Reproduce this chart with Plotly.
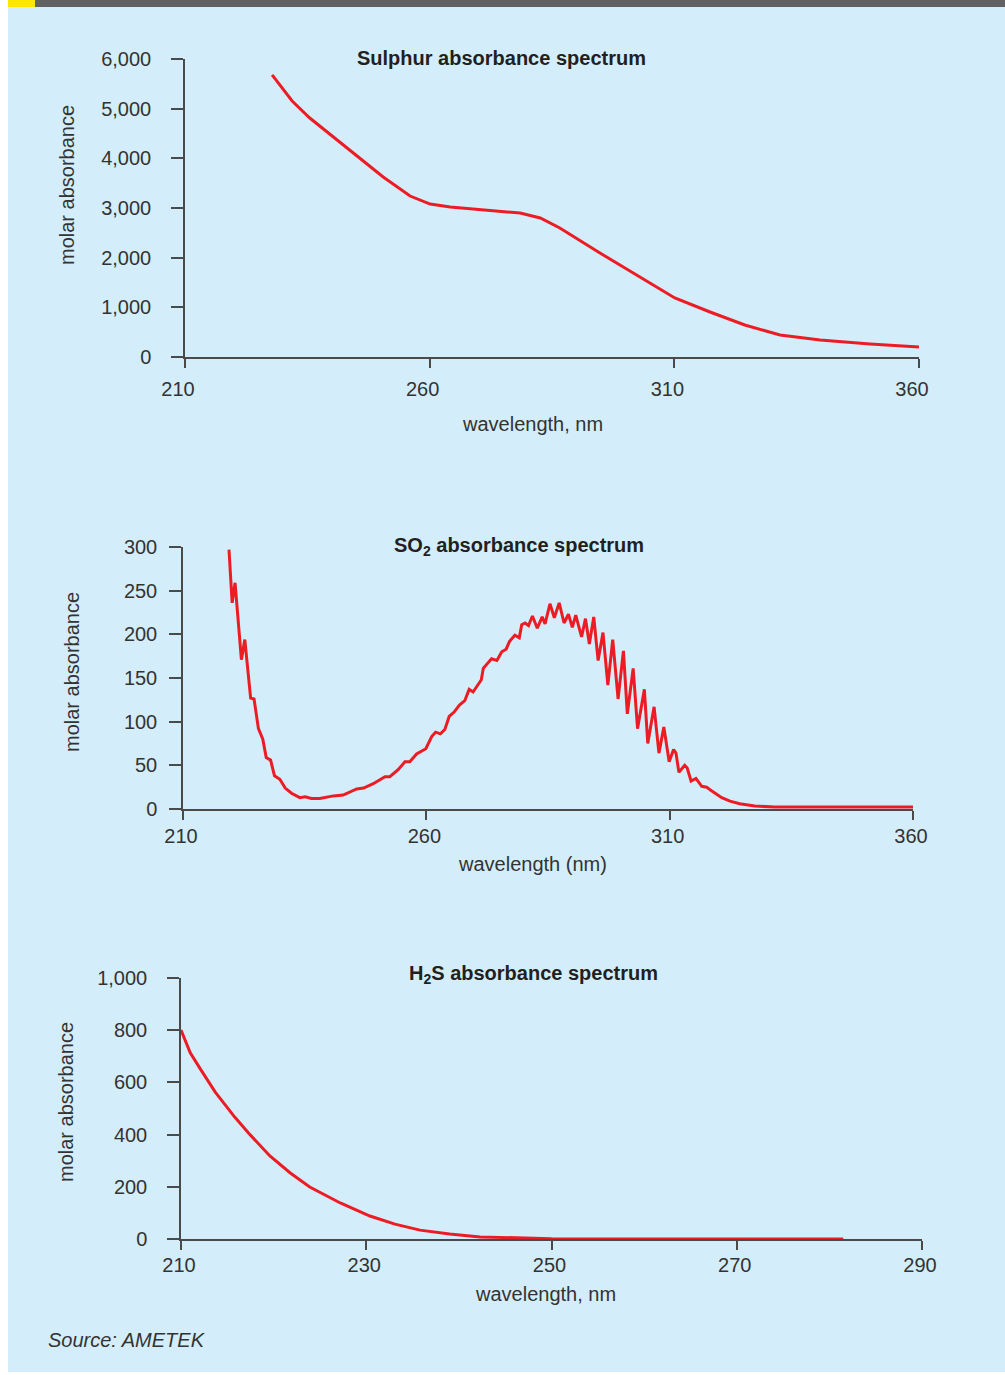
import plotly.graph_objects as go

W, H = 1005, 1375

# ---------------- data ----------------
s_wl = [227.8, 231.9, 235.5, 243.7, 250.5, 256.0, 260.1, 264.2, 278.5, 282.6,
        286.6, 294.8, 303.0, 310.1, 317.3, 324.4, 331.6, 339.8, 350.0, 360.0]
s_abs = [5680, 5155, 4812, 4168, 3624, 3241, 3080, 3020, 2899, 2800,
         2597, 2094, 1611, 1188, 906, 644, 443, 342, 262, 201]

so2_wl = [219.45, 220.1, 220.7, 222.0, 222.7, 223.9, 224.6, 225.5, 226.4, 227.1,
          228.0, 228.8, 229.9, 231.0, 232.3, 234.0, 235.1, 236.4, 238.1, 240.9,
          242.9, 245.7, 247.1, 249.1, 251.5, 252.5, 254.2, 255.6, 256.6, 258.0,
          259.9, 261.1, 261.9, 262.9, 263.8, 264.7, 265.7, 266.8, 267.9, 268.8,
          269.6, 271.3, 271.7, 273.4, 274.5, 275.5, 276.4, 277.1, 278.2, 279.1,
          279.6, 280.3, 281.0, 281.8, 282.8, 283.8, 284.4, 285.4, 286.3, 287.3,
          288.3, 289.2, 290.0, 290.7, 291.9, 292.7, 293.5, 294.4, 295.3, 296.3,
          297.3, 298.3, 299.4, 300.5, 301.3, 302.5, 303.4, 304.8, 305.5, 306.8,
          307.8, 308.8, 309.9, 310.8, 311.3, 311.9, 313.1, 313.6, 314.4, 315.4,
          316.6, 317.6, 318.3, 319.3, 320.7, 322.4, 324.4, 327.5, 331.6, 360.0]
so2_abs = [297, 236, 259, 171, 194, 127, 126, 92, 80, 59,
           56, 38, 34, 24, 18, 13, 14, 12, 12, 15,
           16, 23, 24, 29, 37, 37, 45, 54, 54, 63,
           69, 83, 88, 86, 91, 106, 111, 119, 124, 137,
           134, 148, 161, 172, 170, 180, 183, 192, 199, 196,
           211, 213, 210, 221, 207, 220, 212, 235, 219, 236,
           213, 223, 208, 222, 197, 218, 189, 220, 170, 202,
           142, 194, 126, 181, 109, 161, 92, 137, 75, 117,
           64, 94, 54, 68, 64, 42, 50, 47, 32, 35,
           26, 25, 22, 18, 13, 9, 6, 3.4, 2.3, 2.3]

h2s_wl = [210.0, 211.0, 212.1, 213.7, 215.8, 217.5, 219.6, 221.8, 223.9, 227.2,
          230.4, 233.1, 235.8, 239.0, 242.3, 246.6, 250.0, 281.5]
h2s_abs = [801, 713, 651, 563, 467, 398, 318, 253, 199, 138,
           88, 57, 34, 19, 8, 4, 1, 0]

s_xticks = [210, 260, 310, 360]
so2_xticks = [210, 260, 310, 360]
h2s_xticks = [210, 230, 250, 270, 290]

# ---------------- styling ----------------
BG = "#d3eefa"
RED = "#ed1c24"
AX = "#4a4a4a"
TXT = "#333333"
FONT = "Liberation Sans, Arial, sans-serif"
TFONT = "Liberation Sans, Arial, sans-serif"


def px(x):
    return x / W


def py(y):
    return 1 - y / H


fig = go.Figure()

fig.add_trace(go.Scatter(x=s_wl, y=s_abs, mode="lines", line=dict(color=RED, width=3),
                         xaxis="x", yaxis="y", showlegend=False, hoverinfo="skip"))
fig.add_trace(go.Scatter(x=so2_wl, y=so2_abs, mode="lines", line=dict(color=RED, width=3),
                         xaxis="x2", yaxis="y2", showlegend=False, hoverinfo="skip"))
fig.add_trace(go.Scatter(x=h2s_wl, y=h2s_abs, mode="lines", line=dict(color=RED, width=3),
                         xaxis="x3", yaxis="y3", showlegend=False, hoverinfo="skip"))


def xax(dom, rng, ticks, anchor, shift, standoff):
    return dict(domain=[px(dom[0]), px(dom[1])], range=rng, tickvals=ticks,
                showline=True, linecolor=AX, linewidth=1.5, ticks="outside",
                ticklen=9, tickwidth=1.5, tickcolor=AX, showgrid=False, zeroline=False,
                anchor=anchor, tickfont=dict(family=FONT, size=20, color=TXT),
                ticklabelshift=shift, ticklabelstandoff=standoff, fixedrange=True,
                automargin=False)


def yax(dom, rng, dtick, anchor, standoff):
    return dict(domain=[py(dom[0]), py(dom[1])], range=rng, dtick=dtick, tick0=0,
                showline=True, linecolor=AX, linewidth=1.5, ticks="outside",
                ticklen=12, tickwidth=1.5, tickcolor=AX, showgrid=False, zeroline=False,
                anchor=anchor, tickformat=",", tickfont=dict(family=FONT, size=20, color=TXT),
                ticklabelstandoff=standoff, fixedrange=True, automargin=False)


fig.update_layout(
    width=W, height=H, margin=dict(l=0, r=0, t=0, b=0, pad=0, autoexpand=False),
    paper_bgcolor="white", plot_bgcolor="rgba(0,0,0,0)",
    xaxis=xax((185, 919), [210, 360], s_xticks, "y", -7, 4),
    yaxis=yax((357, 59), [0, 6000], 1000, "x", 16),
    xaxis2=xax((183, 913), [210, 360], so2_xticks, "y2", -2, -1),
    yaxis2=yax((809, 547), [0, 300], 50, "x2", 8),
    xaxis3=xax((181, 922), [210, 290], h2s_xticks, "y3", -2, -2),
    yaxis3=yax((1239, 978), [0, 1000], 200, "x3", 16),
)

shapes = [
    dict(type="rect", xref="paper", yref="paper", x0=px(8), x1=1, y0=py(1372), y1=py(7),
         fillcolor=BG, line=dict(width=0), layer="below"),
    dict(type="rect", xref="paper", yref="paper", x0=px(35), x1=1, y0=py(7), y1=1,
         fillcolor="#606162", line=dict(width=0), layer="below"),
    dict(type="rect", xref="paper", yref="paper", x0=px(8), x1=px(35), y0=py(7), y1=1,
         fillcolor="#ffe500", line=dict(width=0), layer="below"),
]
fig.update_layout(shapes=shapes)

ann = []


def text(x, y, t, size=20, family=FONT, angle=0, color=TXT, xanchor="center"):
    ann.append(dict(x=px(x), y=py(y), xref="paper", yref="paper", text=t, showarrow=False,
                    font=dict(family=family, size=size, color=color), textangle=angle,
                    xanchor=xanchor, yanchor="middle"))


# titles
text(501, 58, "<b>Sulphur absorbance spectrum</b>", size=20, family=TFONT, color="#231f20")
text(519, 546, "<b>SO<sub>2</sub> absorbance spectrum</b>", size=20, family=TFONT, color="#231f20")
text(533, 974, "<b>H<sub>2</sub>S absorbance spectrum</b>", size=20, family=TFONT, color="#231f20")

# axis titles
text(67, 185, "molar absorbance", angle=-90)
text(532, 424, "wavelength, nm")
text(72, 672, "molar absorbance", angle=-90)
text(532, 864, "wavelength (nm)")
text(66, 1102, "molar absorbance", angle=-90)
text(545, 1294, "wavelength, nm")

# source
text(46, 1340, "<i>Source: AMETEK</i>", xanchor="left")

fig.update_layout(annotations=ann)

fig.write_html("out.html", config={"displayModeBar": False},
               post_script="document.body.style.margin='0';document.body.style.overflow='hidden';")
